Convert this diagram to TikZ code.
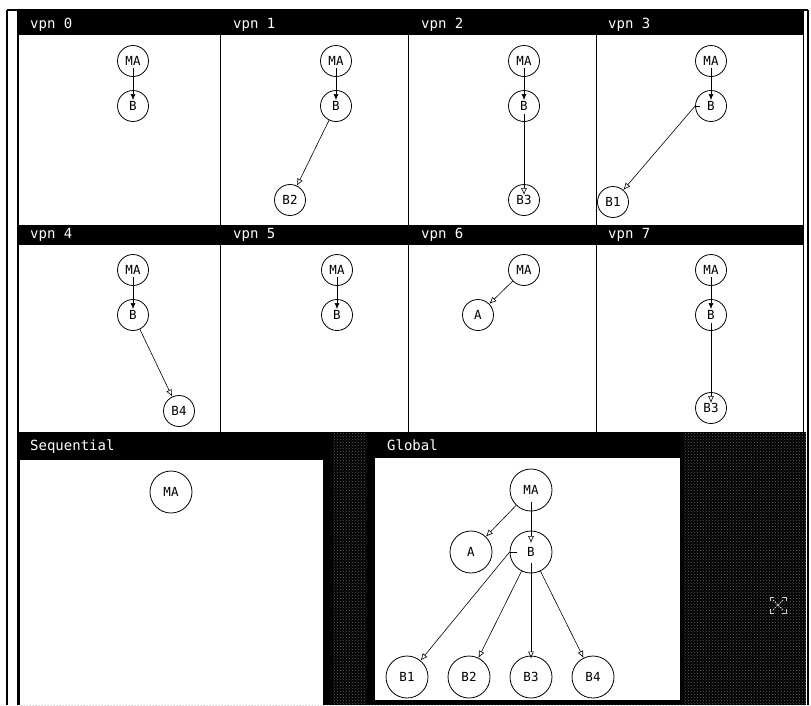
\documentclass[tikz,border=0pt]{standalone}
\usepackage{fontspec}
\newfontfamily\monofam{DejaVu Sans Mono}
\newcommand\hdrfont{\monofam\fontsize{14}{16}\selectfont}
\newcommand\nodefont{\monofam\fontsize{12.5}{14}\selectfont}
\usetikzlibrary{arrows.meta,patterns}
\begin{document}
\begin{tikzpicture}[x=1pt,y=-1pt,
  hlab/.style={text=white,font=\hdrfont,anchor=base west,inner sep=0pt},
  sn/.style={circle,draw,line width=0.8pt,minimum size=31pt,inner sep=0pt,font=\nodefont},
  bn/.style={sn,minimum size=42pt},
  fa/.style={-{Latex[length=6pt,width=5pt]},line width=0.6pt},
  oa/.style={-{Latex[open,length=7pt,width=6pt]},line width=0.6pt},
  frameline/.style={line width=1.2pt},
  divline/.style={line width=1pt},
  stip/.style={pattern=crosshatch dots,pattern color=black!62},
  iconline/.style={draw=black!20,line width=0.8pt}
]
\useasboundingbox (0,0) rectangle (811,705);
\fill[white] (0,0) rectangle (811,705);

% outer frame
\draw[frameline] (7,10) -- (7,705);
\draw[frameline] (7,10) -- (808,10);
\draw[frameline] (808,10) -- (808,705);

% row 3 dark background
\fill[black] (17,432) rectangle (806,705);
\fill[stip] (17,432) rectangle (806,705);

% rows 1 and 2
\draw[divline] (17,34) rectangle (803,432);
\fill[black] (17,11) rectangle (804,34);
\fill[black] (17,225) rectangle (804,245);
\foreach \xx in {220,408,596} \draw[divline] (\xx,34) -- (\xx,432);
\draw[line width=2pt] (18,11) -- (18,705);

% row 3 panels
\fill[black] (17,432) rectangle (333,705);
\fill[white] (20,460) rectangle (323,705);
\fill[black] (367,432) rectangle (683,705);
\fill[white] (375,458) rectangle (680,700);

% header labels
\node[hlab] (l0) at (30,28.5) {vpn 0};
\node[hlab] (l1) at (233,28.5) {vpn 1};
\node[hlab] (l2) at (421,28.5) {vpn 2};
\node[hlab] (l3) at (608,28.5) {vpn 3};
\node[hlab] (l4) at (30,238.5) {vpn 4};
\node[hlab] (l5) at (233,238.5) {vpn 5};
\node[hlab] (l6) at (421,238.5) {vpn 6};
\node[hlab] (l7) at (608,238.5) {vpn 7};
\node[hlab] (ls) at (30,450) {Sequential};
\node[hlab] (lg) at (387,450) {Global};

% vpn 0
\node[sn] (p0ma) at (133,61) {MA};
\node[sn] (p0b) at (133,106) {B};
\draw[fa] ([yshift=-7pt]p0ma.center) -- ([yshift=6pt]p0b.center);

% vpn 1
\node[sn] (p1ma) at (336,61) {MA};
\node[sn] (p1b) at (336,106) {B};
\node[sn] (p1b2) at (290,200) {B2};
\draw[fa] ([yshift=-7pt]p1ma.center) -- ([yshift=6pt]p1b.center);
\draw[oa] (p1b) -- (p1b2);

% vpn 2
\node[sn] (p2ma) at (524,61) {MA};
\node[sn] (p2b) at (524,106) {B};
\node[sn] (p2b3) at (524,200) {B3};
\draw[fa] ([yshift=-7pt]p2ma.center) -- ([yshift=6pt]p2b.center);
\draw[oa] ([yshift=-8pt]p2b.center) -- ([yshift=5pt]p2b3.center);

% vpn 3
\node[sn] (p3ma) at (711,61) {MA};
\node[sn] (p3b) at (711,106) {B};
\node[sn] (p3b1) at (613,202) {B1};
\draw[fa] ([yshift=-7pt]p3ma.center) -- ([yshift=6pt]p3b.center);
\draw[oa] (p3b.west) -- (p3b1);
\draw[line width=0.6pt] (p3b.west) -- ++(5,0);

% vpn 4
\node[sn] (p4ma) at (133,270) {MA};
\node[sn] (p4b) at (133,315) {B};
\node[sn] (p4b4) at (179,411) {B4};
\draw[fa] ([yshift=-7pt]p4ma.center) -- ([yshift=6pt]p4b.center);
\draw[oa] (p4b) -- (p4b4);

% vpn 5
\node[sn] (p5ma) at (337,270) {MA};
\node[sn] (p5b) at (337,315) {B};
\draw[fa] ([yshift=-7pt]p5ma.center) -- ([yshift=6pt]p5b.center);

% vpn 6
\node[sn] (p6ma) at (524,270) {MA};
\node[sn] (p6a) at (478,315) {A};
\draw[oa] (p6ma) -- (p6a);

% vpn 7
\node[sn] (p7ma) at (711,270) {MA};
\node[sn] (p7b) at (711,315) {B};
\node[sn] (p7b3) at (711,408) {B3};
\draw[fa] ([yshift=-7pt]p7ma.center) -- ([yshift=6pt]p7b.center);
\draw[oa] ([yshift=-8pt]p7b.center) -- ([yshift=5pt]p7b3.center);

% Sequential
\node[bn] (sma) at (171,492) {MA};

% Global
\node[bn] (gma) at (531,490) {MA};
\node[bn] (ga) at (471,552) {A};
\node[bn] (gb) at (531,552) {B};
\node[bn] (gb1) at (407,677) {B1};
\node[bn] (gb2) at (469,677) {B2};
\node[bn] (gb3) at (531,677) {B3};
\node[bn] (gb4) at (593,677) {B4};
\draw[oa] (gma) -- (ga);
\draw[oa] ([yshift=-12pt]gma.center) -- ([yshift=9pt]gb.center);
\draw[oa] (gb.west) -- (gb1);
\draw[line width=0.6pt] (gb.west) -- ++(7,0);
\draw[oa] (gb) -- (gb2);
\draw[oa] ([yshift=-11pt]gb.center) -- ([yshift=-3pt]gb3.north);
\draw[oa] (gb) -- (gb4);

% cursor icon
\begin{scope}[shift={(778,605)}]
  \draw[iconline] (-8,-4) -- (-8,-8) -- (-4,-8);
  \draw[iconline] (8,-4) -- (8,-8) -- (4,-8);
  \draw[iconline] (-8,4) -- (-8,8) -- (-4,8);
  \draw[iconline] (8,4) -- (8,8) -- (4,8);
  \draw[iconline,dash pattern=on 1.5pt off 1pt] (-5,-5) -- (5,5);
  \draw[iconline,dash pattern=on 1.5pt off 1pt] (5,-5) -- (-5,5);
\end{scope}
\end{tikzpicture}
\end{document}
